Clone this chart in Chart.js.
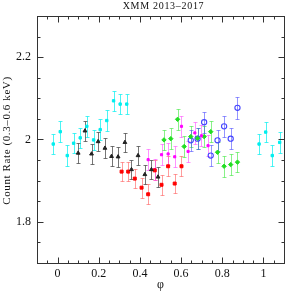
<!DOCTYPE html>
<html>
<head>
<meta charset="utf-8">
<script src="https://cdn.jsdelivr.net/npm/chart.js@4"></script>
<style>
html,body{margin:0;padding:0;background:#fff;}
#wrap{width:300px;height:300px;}
</style>
</head>
<body>
<div id="wrap"><canvas id="c" width="300" height="300"></canvas></div>
<script>
// ---- data ----
const cyanPhi  = [-0.021, 0.013, 0.047, 0.078, 0.110, 0.142, 0.175, 0.207, 0.239, 0.272, 0.304, 0.336, 0.979, 1.011, 1.043, 1.079];
const cyanRate = [1.989, 2.019, 1.961, 1.991, 2.004, 2.032, 1.999, 2.024, 2.046, 2.094, 2.086, 2.086, 1.989, 2.018, 1.961, 1.993];
const cyanErr  = [0.025, 0.025, 0.025, 0.025, 0.025, 0.025, 0.025, 0.025, 0.025, 0.025, 0.025, 0.025, 0.025, 0.025, 0.025, 0.025];

const blackPhi  = [0.100, 0.133, 0.165, 0.197, 0.230, 0.262, 0.294, 0.327, 0.359, 0.391, 0.424, 0.456, 0.488];
const blackRate = [1.967, 2.021, 1.965, 1.995, 1.979, 1.959, 1.958, 1.993, 1.927, 1.961, 1.915, 1.927, 1.909];
const blackErr  = [0.024, 0.024, 0.024, 0.024, 0.024, 0.024, 0.024, 0.024, 0.024, 0.024, 0.024, 0.024, 0.024];

const redPhi  = [0.311, 0.343, 0.375, 0.408, 0.440, 0.472, 0.505, 0.537, 0.569, 0.602];
const redRate = [1.922, 1.922, 1.905, 1.883, 1.867, 1.925, 1.890, 1.935, 1.893, 1.935];
const redErr  = [0.024, 0.024, 0.024, 0.024, 0.024, 0.024, 0.024, 0.024, 0.024, 0.024];

const magPhi  = [0.440, 0.472, 0.505, 0.537, 0.569, 0.602, 0.634, 0.667, 0.699, 0.731];
const magRate = [1.951, 1.927, 1.963, 1.965, 1.958, 2.032, 1.971, 2.016, 2.009, 1.985];
const magErr  = [0.026, 0.026, 0.026, 0.026, 0.026, 0.026, 0.026, 0.026, 0.026, 0.026];

const greenPhi  = [0.517, 0.550, 0.583, 0.615, 0.647, 0.680, 0.712, 0.744, 0.777, 0.809, 0.841, 0.874];
const greenRate = [1.999, 2.002, 2.049, 1.983, 2.007, 2.003, 2.007, 2.019, 1.969, 1.935, 1.939, 1.945];
const greenErr  = [0.025, 0.025, 0.025, 0.025, 0.025, 0.025, 0.025, 0.025, 0.025, 0.025, 0.025, 0.025];

const bluePhi  = [0.647, 0.680, 0.712, 0.744, 0.777, 0.809, 0.841, 0.874];
const blueRate = [1.998, 2.002, 2.042, 1.961, 1.998, 2.032, 2.002, 2.077];
const blueErr  = [0.026, 0.026, 0.026, 0.026, 0.026, 0.026, 0.026, 0.026];

const xLabels = ['0', '0.2', '0.4', '0.6', '0.8', '1'];
const yLabels = ['1.8', '2', '2.2'];
const titleText = 'XMM 2013\u20132017';
const yTitle = 'Count Rate (0.3\u20130.6 keV)';
const xTitle = '\u03c6';

function pts(px, py){ return px.map((v,i)=>({x:v, y:py[i]})); }

const SERIF = '"Liberation Serif", "DejaVu Serif", serif';

const datasets = [
  {label:'cyan',  data:pts(cyanPhi,cyanRate),   err:cyanErr,  errColor:'rgba(0,240,240,0.7)',
   pointStyle:'rect', radius:1.7, backgroundColor:'#00eeee', borderColor:'#00eeee', borderWidth:1},
  {label:'black', data:pts(blackPhi,blackRate), err:blackErr, errColor:'rgba(60,60,60,0.7)',
   pointStyle:'triangle', radius:2.2, backgroundColor:'#222', borderColor:'#222', borderWidth:1},
  {label:'red',   data:pts(redPhi,redRate),     err:redErr,   errColor:'rgba(255,60,60,0.5)',
   pointStyle:'rect', radius:2.1, backgroundColor:'#ff0000', borderColor:'#ff0000', borderWidth:1},
  {label:'magenta', data:pts(magPhi,magRate),   err:magErr,   errColor:'rgba(255,60,255,0.55)',
   pointStyle:'rect', radius:1.5, backgroundColor:'#ff00ff', borderColor:'#ff00ff', borderWidth:1},
  {label:'green', data:pts(greenPhi,greenRate), err:greenErr, errColor:'rgba(40,230,40,0.55)',
   pointStyle:'rectRot', radius:2.2, backgroundColor:'#22dd22', borderColor:'#22dd22', borderWidth:1},
  {label:'blue',  data:pts(bluePhi,blueRate),   err:blueErr,  errColor:'rgba(60,60,255,0.55)',
   pointStyle:'circle', radius:2.6, backgroundColor:'rgba(0,0,0,0)', borderColor:'#4444ff', borderWidth:1.1}
];

const errPlugin = {
  id:'errbars',
  beforeDatasetsDraw(chart){
    const ctx = chart.ctx, xs = chart.scales.x, ys = chart.scales.y;
    ctx.save();
    chart.data.datasets.forEach(ds=>{
      ctx.strokeStyle = ds.errColor;
      ctx.lineWidth = 1;
      ds.data.forEach((p,i)=>{
        const px = Math.round(xs.getPixelForValue(p.x)) + 0.5;
        const y1 = Math.round(ys.getPixelForValue(p.y - ds.err[i])) + 0.5;
        const y2 = Math.round(ys.getPixelForValue(p.y + ds.err[i])) + 0.5;
        ctx.beginPath();
        ctx.moveTo(px, y1); ctx.lineTo(px, y2);
        ctx.moveTo(px-2, y1); ctx.lineTo(px+2, y1);
        ctx.moveTo(px-2, y2); ctx.lineTo(px+2, y2);
        ctx.stroke();
      });
    });
    ctx.restore();
  }
};

const framePlugin = {
  id:'frame',
  afterDraw(chart){
    const ctx = chart.ctx, a = chart.chartArea, xs = chart.scales.x, ys = chart.scales.y;
    ctx.save();
    ctx.strokeStyle = '#333';
    ctx.lineWidth = 1;
    const L = Math.round(a.left)+0.5, R = Math.round(a.right)+0.5, T = Math.round(a.top)+0.5, B = Math.round(a.bottom)+0.5;
    ctx.strokeRect(L, T, R-L, B-T);
    ctx.beginPath();
    for (let k = -2; k <= 22; k++){
      const v = k*0.05;
      const x = Math.round(xs.getPixelForValue(v))+0.5;
      const len = (k % 4 === 0) ? 6 : 3;
      ctx.moveTo(x, B); ctx.lineTo(x, B-len);
      ctx.moveTo(x, T); ctx.lineTo(x, T+len);
    }
    for (let k = 34; k <= 46; k++){
      const v = k*0.05;
      const y = Math.round(ys.getPixelForValue(v))+0.5;
      const len = (k % 4 === 0) ? 6 : 3;
      ctx.moveTo(L, y); ctx.lineTo(L+len, y);
      ctx.moveTo(R, y); ctx.lineTo(R-len, y);
    }
    ctx.stroke();
    // titles
    ctx.fillStyle = '#111';
    ctx.textAlign = 'center';
    ctx.textBaseline = 'middle';
    ctx.font = '10px ' + SERIF;
    ctx.letterSpacing = '0.7px';
    ctx.fillText(titleText, (a.left+a.right)/2 + 3, 6);
    ctx.letterSpacing = '0px';
    ctx.font = '12px ' + SERIF;
    ctx.fillText(xTitle, (a.left+a.right)/2, 285);
    ctx.translate(7, (a.top+a.bottom)/2 + 1);
    ctx.rotate(-Math.PI/2);
    ctx.font = '11px ' + SERIF;
    ctx.letterSpacing = '0.6px';
    ctx.fillText(yTitle, 0, 0);
    ctx.restore();
  }
};

function near(v, t){ return Math.abs(v - t) < 1e-6; }

new Chart(document.getElementById('c'), {
  type:'scatter',
  data:{datasets},
  plugins:[errPlugin, framePlugin],
  options:{
    responsive:false,
    animation:false,
    devicePixelRatio:1,
    layout:{padding:{left:0, right:16, top:16, bottom:0}},
    plugins:{legend:{display:false}, tooltip:{enabled:false}, title:{display:false}},
    scales:{
      x:{
        type:'linear', min:-0.1, max:1.1,
        grid:{display:false, drawTicks:false}, border:{display:false},
        afterFit(s){ s.height = 37; },
        afterBuildTicks(s){ s.ticks = xLabels.map(t=>({value:parseFloat(t)})); },
        ticks:{autoSkip:false, maxRotation:0, padding:4, color:'#111',
          font:{family:SERIF, size:12},
          callback(v){ const i = xLabels.findIndex(t=>near(parseFloat(t), v)); return i>=0 ? xLabels[i] : ''; }}
      },
      y:{
        type:'linear', min:1.7, max:2.3,
        grid:{display:false, drawTicks:false}, border:{display:false},
        afterFit(s){ s.width = 37; },
        afterBuildTicks(s){ s.ticks = yLabels.map(t=>({value:parseFloat(t)})); },
        ticks:{autoSkip:false, padding:6, color:'#111',
          font:{family:SERIF, size:12},
          callback(v){ const i = yLabels.findIndex(t=>near(parseFloat(t), v)); return i>=0 ? yLabels[i] : ''; }}
      }
    }
  }
});
</script>
</body>
</html>
